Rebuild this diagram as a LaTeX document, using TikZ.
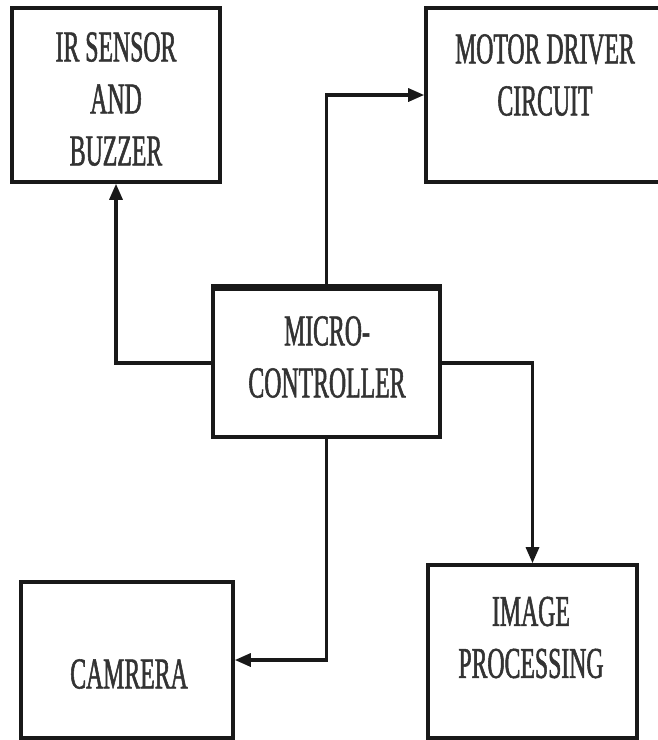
\documentclass[tikz,border=0pt]{standalone}
\usepackage{fontspec}
\usetikzlibrary{arrows.meta}
\newfontfamily\tnr[FakeStretch=0.54,FakeBold=1.2]{Liberation Serif}
\begin{document}
\begin{tikzpicture}[x=1pt,y=-1pt,
  box/.style={draw=black!90, line width=3.6pt, rectangle, inner sep=0pt},
  lbl/.style={font=\tnr\fontsize{44}{52}\selectfont, align=center, inner sep=0pt, text=black!80},
  conn/.style={draw=black!90, line width=3.2pt, -{Triangle[length=16pt,width=13pt]}}]
\useasboundingbox[fill=white] (0,0) rectangle (657,740);
% boxes
\node[box, minimum width=208pt, minimum height=174pt] (ir) at (116,95) {};
\node[box, minimum width=238pt, minimum height=174pt] (motor) at (545,95) {};
\node[box, minimum width=227pt, minimum height=148pt] (micro) at (326.5,363) {};
\node[box, minimum width=212pt, minimum height=156pt] (cam) at (127,660) {};
\node[box, minimum width=209pt, minimum height=173pt] (img) at (532.5,651.5) {};
\draw[line width=5.5pt, black!90] (micro.north west) -- (micro.north east);
% labels
\node[lbl] (irt) at (116,99) {IR SENSOR\\AND\\BUZZER};
\node[lbl] (motort) at (545,75) {MOTOR DRIVER\\CIRCUIT};
\node[lbl] (microt) at (327,357) {MICRO-\\CONTROLLER};
\node[lbl] (camt) at (129,674) {CAMRERA};
\node[lbl] (imgt) at (531,637.5) {IMAGE\\PROCESSING};
% connectors
\draw[conn] (micro.north) |- (motor.west);
\draw[conn] (micro.west) -| (ir.south);
\draw[conn] (micro.east) -| (img.north);
\draw[conn] (micro.south) |- (cam.east);
\end{tikzpicture}
\end{document}
